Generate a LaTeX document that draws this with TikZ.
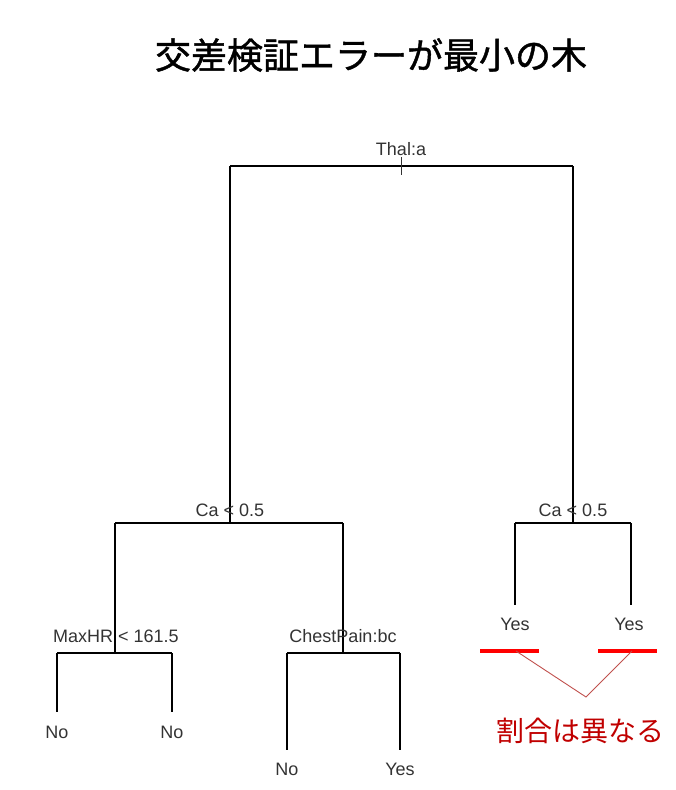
\documentclass[tikz,border=0pt]{standalone}
\usepackage{fontspec}
\setmainfont{Liberation Sans}
\newfontfamily\cjk{Noto Sans CJK JP}
\newfontfamily\cjkb[FakeBold=1.2]{Noto Sans CJK JP}
\definecolor{lbl}{HTML}{333333}
\definecolor{darkred}{HTML}{C00000}
\definecolor{thinred}{HTML}{C0504D}
\begin{document}
\begin{tikzpicture}[x=1pt,y=-1pt,
  edge/.style={line width=1.6pt,black},
  lab/.style={font=\fontsize{18}{18}\selectfont,text=lbl,inner sep=0pt},
  redbar/.style={line width=4pt,red},
  pointer/.style={line width=0.9pt,thinred}]
\useasboundingbox (0,0) rectangle (676,790);
% title
\node[font=\cjkb\fontsize{36}{36}\selectfont,inner sep=0pt] (title) at (371,55) {交差検証エラーが最小の木};
% coordinates
\coordinate (root) at (401,166);
\coordinate (rootL) at (230,166);
\coordinate (rootR) at (573,166);
\coordinate (tickT) at (401,157);
\coordinate (tickB) at (401,175);
\coordinate (n1) at (230,523);
\coordinate (n1L) at (115,523);
\coordinate (n1R) at (343,523);
\coordinate (n2) at (573,523);
\coordinate (n2L) at (515,523);
\coordinate (n2R) at (631,523);
\coordinate (n3) at (115,653);
\coordinate (n3L) at (57,653);
\coordinate (n3R) at (172,653);
\coordinate (n4) at (343,653);
\coordinate (n4L) at (287,653);
\coordinate (n4R) at (400,653);
\coordinate (l1) at (57,712);
\coordinate (l2) at (172,712);
\coordinate (l3) at (287,750);
\coordinate (l4) at (400,750);
\coordinate (l5) at (515,605);
\coordinate (l6) at (631,605);
% edges
\draw[edge] (rootL) -- (rootR);
\draw[line width=1pt,lbl] (tickT) -- (tickB);
\draw[edge] (rootL) -- (n1);
\draw[edge] (rootR) -- (n2);
\draw[edge] (n1L) -- (n1R);
\draw[edge] (n2L) -- (n2R);
\draw[edge] (n1L) -- (n3);
\draw[edge] (n1R) -- (n4);
\draw[edge] (n3L) -- (n3R);
\draw[edge] (n4L) -- (n4R);
\draw[edge] (n3L) -- (l1);
\draw[edge] (n3R) -- (l2);
\draw[edge] (n4L) -- (l3);
\draw[edge] (n4R) -- (l4);
\draw[edge] (n2L) -- (l5);
\draw[edge] (n2R) -- (l6);
% labels
\node[lab] (tThal) at (401,149) {Thal:a};
\node[lab] (tCa1) at (230,510) {Ca < 0.5};
\node[lab] (tCa2) at (573,510) {Ca < 0.5};
\node[lab] (tMax) at (116,636) {MaxHR < 161.5};
\node[lab] (tChest) at (343,636) {ChestPain:bc};
\node[lab] (tNo1) at (57,732) {No};
\node[lab] (tNo2) at (172,732) {No};
\node[lab] (tNo3) at (287,769) {No};
\node[lab] (tYes1) at (400,769) {Yes};
\node[lab] (tYes2) at (515,624) {Yes};
\node[lab] (tYes3) at (629,624) {Yes};
% red annotation
\coordinate (b1a) at (480,651);
\coordinate (b1b) at (539,651);
\coordinate (b1m) at (516,651);
\coordinate (b2a) at (598,651);
\coordinate (b2b) at (657,651);
\coordinate (b2m) at (632,651);
\coordinate (meet) at (586,697);
\draw[redbar] (b1a) -- (b1b);
\draw[redbar] (b2a) -- (b2b);
\draw[pointer] (b1m) -- (meet) -- (b2m);
\node[font=\cjk\fontsize{28}{28}\selectfont,text=darkred,inner sep=0pt] (note) at (580,731) {割合は異なる};
\end{tikzpicture}
\end{document}
